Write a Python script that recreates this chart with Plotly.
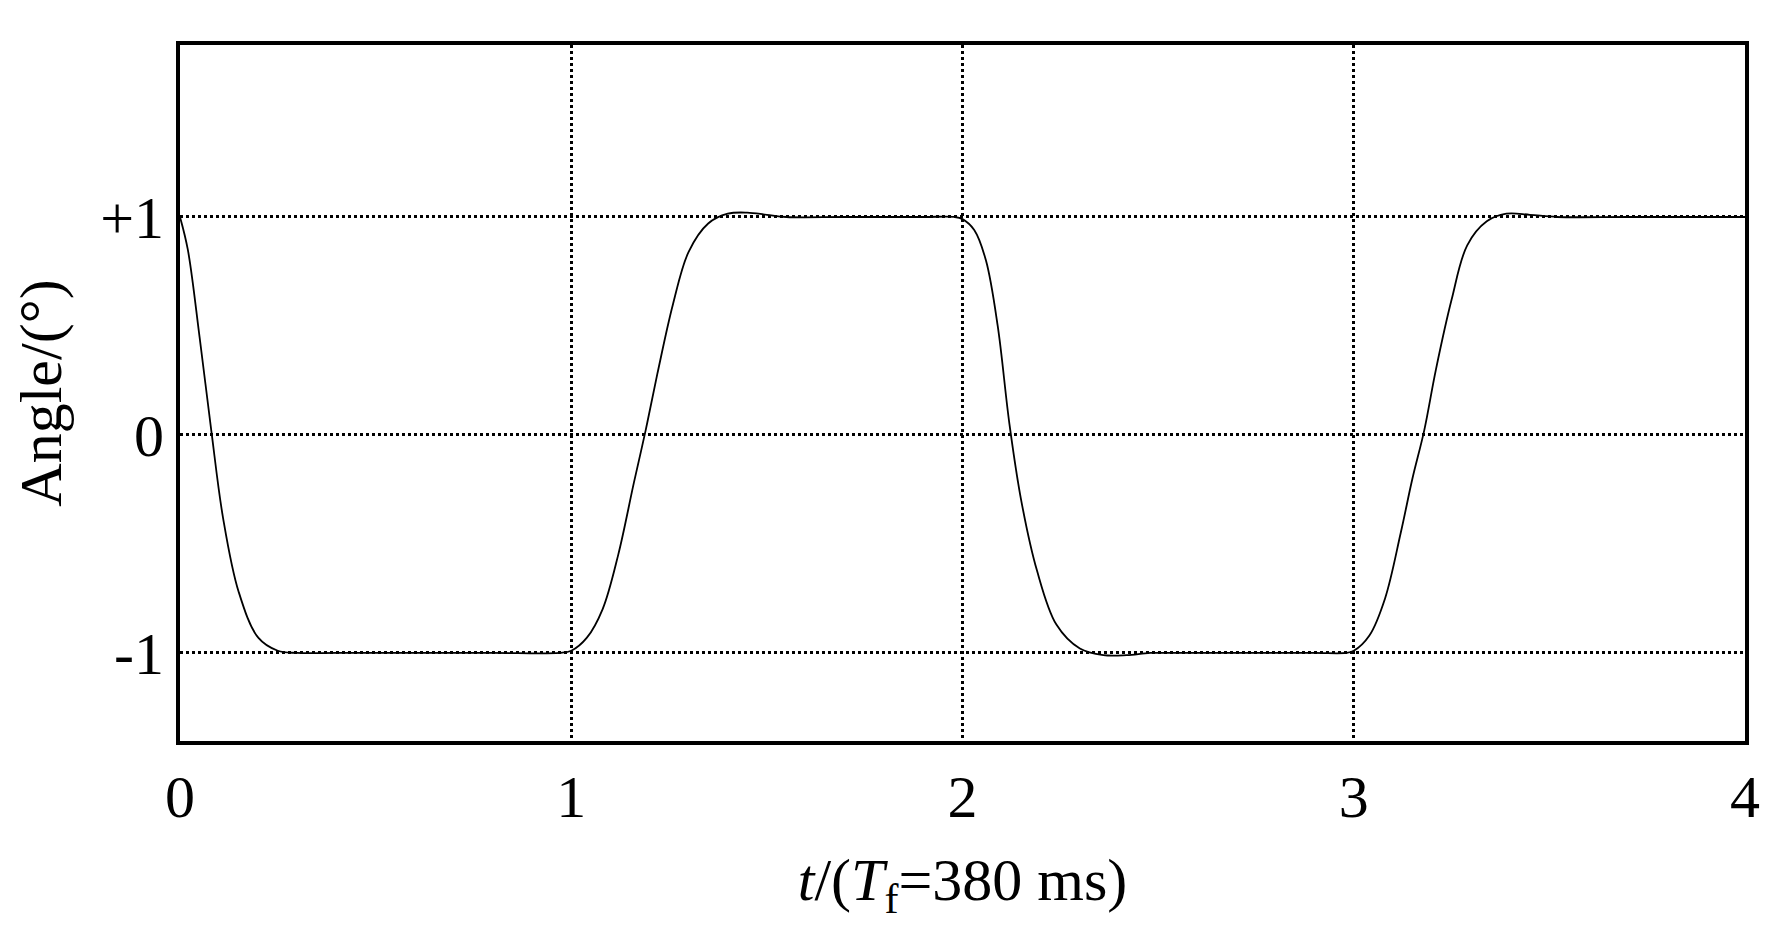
import plotly.graph_objects as go

t = [0, 0.02, 0.05, 0.08, 0.11, 0.15, 0.2, 0.25, 0.3, 0.4, 0.6, 0.8, 0.97,
     1.0, 1.04, 1.08, 1.12, 1.16, 1.19, 1.22, 1.26, 1.3, 1.35, 1.4, 1.45, 1.5, 1.55, 1.7, 1.9, 1.98,
     2.0, 2.03, 2.06, 2.09, 2.12, 2.15, 2.19, 2.24, 2.3, 2.36, 2.42, 2.48, 2.55, 2.7, 2.9, 2.98,
     3.0, 3.04, 3.08, 3.12, 3.15, 3.18, 3.21, 3.25, 3.29, 3.34, 3.39, 3.45, 3.52, 3.7, 3.9, 4.0]
angle = [1.0, 0.85, 0.45, 0.02, -0.38, -0.72, -0.93, -0.99, -1.0, -1.0, -1.0, -1.0, -1.0,
         -0.99, -0.93, -0.8, -0.55, -0.22, 0.02, 0.28, 0.6, 0.84, 0.97, 1.015, 1.02, 1.01, 1.0, 1.0, 1.0, 1.0,
         0.99, 0.94, 0.8, 0.5, 0.05, -0.3, -0.62, -0.87, -0.98, -1.01, -1.01, -1.0, -1.0, -1.0, -1.0, -1.0,
         -0.99, -0.92, -0.75, -0.45, -0.2, 0.02, 0.3, 0.62, 0.87, 0.98, 1.015, 1.01, 1.0, 1.0, 1.0, 1.0]

ytickvals = [-1, 0, 1]
yticktext = ["-1", "0", "+1"]

fig = go.Figure(go.Scatter(x=t, y=angle, mode="lines", line=dict(color="black", width=1.8, shape="spline", smoothing=1.0)))
font = dict(family="Liberation Serif", size=60, color="black")
axis_common = dict(showline=True, mirror=True, linecolor="black", linewidth=4,
                   showgrid=True, gridcolor="black", gridwidth=3, griddash="dot",
                   zeroline=False, ticks="", tickfont=font)
fig.update_xaxes(range=[0, 4], tickvals=[0, 1, 2, 3, 4],
                 title=dict(text="<i>t</i>/(<i>T</i><sub>f</sub>=380 ms)", font=font, standoff=30), **axis_common)
fig.update_yaxes(range=[-1.404, 1.789], tickvals=ytickvals, ticktext=yticktext,
                 title=dict(text="Angle/(°)", font=font, standoff=25), **axis_common)
fig.update_layout(width=1772, height=927, plot_bgcolor="white", paper_bgcolor="white",
                  margin=dict(l=172, r=35, t=37, b=194), showlegend=False)
fig.write_html("out.html")
